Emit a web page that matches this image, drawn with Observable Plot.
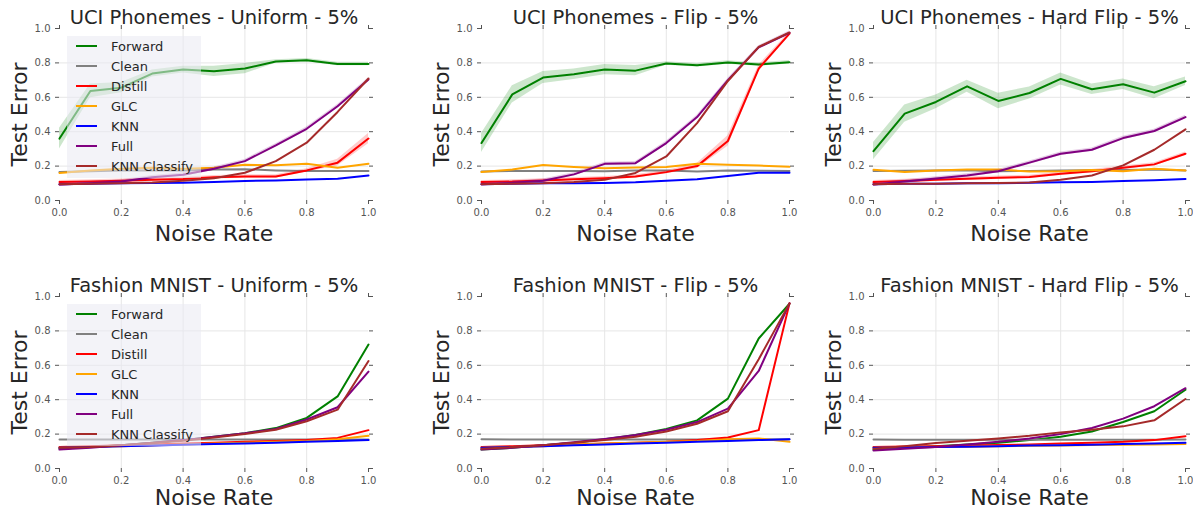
<!DOCTYPE html>
<html><head><meta charset="utf-8">
<script src="https://cdn.jsdelivr.net/npm/d3@7"></script>
<script src="https://cdn.jsdelivr.net/npm/@observablehq/plot@0.6"></script>
<style>
body{margin:0;background:#fff;font-family:"DejaVu Sans",sans-serif;}
#root{position:relative;width:1193px;height:509px;overflow:hidden;background:#fff;}
.panel{position:absolute;}
.legend{position:absolute;width:134px;height:142px;background:rgba(234,234,242,0.55);box-sizing:border-box;}
.legend .row{position:absolute;left:0;height:20px;display:flex;align-items:center;font-size:13px;color:#262626;white-space:nowrap;}
.legend .sw{width:21px;height:2px;margin-left:9px;margin-right:14px;}
</style></head><body><div id="root"></div><script>
// ---- data ----
const noiseRates = [0, 0.1, 0.2, 0.3, 0.4, 0.5, 0.6, 0.7, 0.8, 0.9, 1.0];
const methods = ["Forward", "Clean", "Distill", "GLC", "KNN", "Full", "KNN Classify"];
const methodColors = ["#008000", "#808080", "#ff0000", "#ffa500", "#0000ff", "#800080", "#a52a2a"];
const yTicks = [0, 0.2, 0.4, 0.6, 0.8, 1.0];
const xTicks = [0, 0.2, 0.4, 0.6, 0.8, 1.0];
const gridTicks = [0.2, 0.4, 0.6, 0.8];
const panelTitles = [
  "UCI Phonemes - Uniform - 5%", "UCI Phonemes - Flip - 5%", "UCI Phonemes - Hard Flip - 5%",
  "Fashion MNIST - Uniform - 5%", "Fashion MNIST - Flip - 5%", "Fashion MNIST - Hard Flip - 5%"
];
const xLabel = "Noise Rate";
const yLabel = "Test Error";

const uciUniform = {
  "Forward":      [0.36, 0.637, 0.656, 0.738, 0.761, 0.751, 0.767, 0.808, 0.816, 0.794, 0.794],
  "Clean":        [0.165, 0.170, 0.175, 0.175, 0.175, 0.180, 0.182, 0.175, 0.171, 0.171, 0.171],
  "Distill":      [0.107, 0.110, 0.115, 0.120, 0.125, 0.135, 0.140, 0.140, 0.175, 0.220, 0.360],
  "GLC":          [0.160, 0.175, 0.185, 0.190, 0.185, 0.190, 0.208, 0.205, 0.213, 0.190, 0.213],
  "KNN":          [0.095, 0.098, 0.100, 0.102, 0.103, 0.108, 0.113, 0.117, 0.122, 0.127, 0.146],
  "Full":         [0.093, 0.100, 0.110, 0.135, 0.150, 0.185, 0.229, 0.320, 0.417, 0.548, 0.703],
  "KNN Classify": [0.095, 0.097, 0.100, 0.105, 0.115, 0.130, 0.161, 0.229, 0.336, 0.515, 0.709]
};
const uciUniformStd = {
  "Forward": [0.06, 0.04, 0.03, 0.02, 0.02, 0.03, 0.03, 0.01, 0.01, 0.01, 0.01],
  "Distill": [0.01, 0.01, 0.01, 0.01, 0.01, 0.01, 0.01, 0.01, 0.01, 0.02, 0.03],
  "Full":    [0.01, 0.01, 0.01, 0.01, 0.01, 0.01, 0.01, 0.01, 0.01, 0.01, 0.01]
};

const uciFlip = {
  "Forward":      [0.334, 0.617, 0.715, 0.734, 0.761, 0.755, 0.796, 0.786, 0.802, 0.790, 0.804],
  "Clean":        [0.169, 0.172, 0.172, 0.172, 0.170, 0.175, 0.175, 0.168, 0.175, 0.173, 0.172],
  "Distill":      [0.107, 0.110, 0.117, 0.123, 0.130, 0.140, 0.165, 0.200, 0.346, 0.767, 0.970],
  "GLC":          [0.165, 0.180, 0.206, 0.195, 0.187, 0.192, 0.195, 0.213, 0.208, 0.203, 0.196],
  "KNN":          [0.095, 0.097, 0.100, 0.100, 0.102, 0.106, 0.115, 0.123, 0.143, 0.161, 0.161],
  "Full":         [0.095, 0.103, 0.115, 0.152, 0.213, 0.217, 0.334, 0.485, 0.700, 0.890, 0.975],
  "KNN Classify": [0.095, 0.097, 0.100, 0.108, 0.120, 0.160, 0.256, 0.450, 0.695, 0.893, 0.977]
};
const uciFlipStd = {
  "Forward": [0.055, 0.05, 0.035, 0.03, 0.03, 0.03, 0.01, 0.01, 0.01, 0.01, 0.01],
  "Distill": [0.01, 0.01, 0.01, 0.01, 0.01, 0.01, 0.01, 0.015, 0.03, 0.02, 0.01],
  "Full":    [0.01, 0.01, 0.01, 0.01, 0.01, 0.01, 0.01, 0.01, 0.01, 0.01, 0.01]
};

const uciHardFlip = {
  "Forward":      [0.287, 0.505, 0.573, 0.664, 0.579, 0.625, 0.707, 0.647, 0.676, 0.627, 0.693],
  "Clean":        [0.171, 0.173, 0.175, 0.176, 0.170, 0.172, 0.175, 0.176, 0.178, 0.180, 0.175],
  "Distill":      [0.107, 0.113, 0.120, 0.127, 0.132, 0.137, 0.155, 0.170, 0.190, 0.210, 0.272],
  "GLC":          [0.179, 0.165, 0.175, 0.180, 0.180, 0.168, 0.170, 0.178, 0.170, 0.185, 0.175],
  "KNN":          [0.095, 0.097, 0.098, 0.100, 0.100, 0.103, 0.106, 0.108, 0.113, 0.118, 0.125],
  "Full":         [0.093, 0.110, 0.128, 0.145, 0.170, 0.220, 0.272, 0.295, 0.363, 0.404, 0.485],
  "KNN Classify": [0.095, 0.097, 0.098, 0.100, 0.102, 0.105, 0.120, 0.145, 0.204, 0.295, 0.414]
};
const uciHardFlipStd = {
  "Forward": [0.05, 0.05, 0.04, 0.035, 0.045, 0.035, 0.035, 0.03, 0.03, 0.035, 0.025],
  "Distill": [0.01, 0.01, 0.01, 0.01, 0.01, 0.01, 0.01, 0.01, 0.01, 0.01, 0.01],
  "Full":    [0.01, 0.01, 0.01, 0.01, 0.01, 0.01, 0.01, 0.01, 0.01, 0.01, 0.01]
};

const fashionUniform = {
  "Forward":      [0.115, 0.125, 0.135, 0.150, 0.165, 0.185, 0.205, 0.235, 0.294, 0.419, 0.721],
  "Clean":        [0.168, 0.168, 0.168, 0.168, 0.168, 0.168, 0.168, 0.168, 0.168, 0.168, 0.168],
  "Distill":      [0.125, 0.130, 0.135, 0.140, 0.145, 0.150, 0.155, 0.160, 0.165, 0.178, 0.223],
  "GLC":          [0.120, 0.125, 0.130, 0.135, 0.140, 0.145, 0.150, 0.155, 0.160, 0.170, 0.190],
  "KNN":          [0.120, 0.125, 0.130, 0.134, 0.138, 0.142, 0.146, 0.150, 0.155, 0.160, 0.165],
  "Full":         [0.110, 0.120, 0.135, 0.150, 0.165, 0.185, 0.205, 0.230, 0.285, 0.356, 0.563],
  "KNN Classify": [0.120, 0.125, 0.135, 0.148, 0.162, 0.180, 0.200, 0.225, 0.275, 0.342, 0.625]
};
const fashionUniformStd = {};

const fashionFlip = {
  "Forward":      [0.110, 0.120, 0.135, 0.150, 0.170, 0.195, 0.230, 0.280, 0.406, 0.756, 0.958],
  "Clean":        [0.170, 0.168, 0.168, 0.168, 0.168, 0.168, 0.168, 0.168, 0.168, 0.169, 0.170],
  "Distill":      [0.125, 0.130, 0.135, 0.140, 0.145, 0.150, 0.155, 0.165, 0.180, 0.223, 0.960],
  "GLC":          [0.120, 0.125, 0.130, 0.140, 0.145, 0.150, 0.155, 0.160, 0.170, 0.175, 0.155],
  "KNN":          [0.120, 0.125, 0.130, 0.135, 0.140, 0.145, 0.150, 0.155, 0.160, 0.165, 0.170],
  "Full":         [0.110, 0.120, 0.135, 0.152, 0.172, 0.195, 0.225, 0.270, 0.348, 0.567, 0.960],
  "KNN Classify": [0.115, 0.125, 0.135, 0.150, 0.165, 0.185, 0.215, 0.260, 0.333, 0.635, 0.960]
};
const fashionFlipStd = {};

const fashionHardFlip = {
  "Forward":      [0.110, 0.120, 0.130, 0.140, 0.150, 0.165, 0.185, 0.215, 0.270, 0.333, 0.458],
  "Clean":        [0.168, 0.167, 0.167, 0.167, 0.167, 0.167, 0.167, 0.167, 0.167, 0.167, 0.168],
  "Distill":      [0.125, 0.128, 0.130, 0.133, 0.136, 0.140, 0.145, 0.150, 0.155, 0.165, 0.188],
  "GLC":          [0.120, 0.122, 0.125, 0.127, 0.130, 0.132, 0.134, 0.136, 0.138, 0.140, 0.142],
  "KNN":          [0.120, 0.122, 0.125, 0.127, 0.130, 0.133, 0.135, 0.138, 0.142, 0.146, 0.150],
  "Full":         [0.105, 0.115, 0.125, 0.140, 0.155, 0.175, 0.200, 0.235, 0.290, 0.362, 0.467],
  "KNN Classify": [0.115, 0.130, 0.148, 0.162, 0.175, 0.190, 0.210, 0.225, 0.245, 0.280, 0.404]
};
const fashionHardFlipStd = {};

const panelData = [uciUniform, uciFlip, uciHardFlip, fashionUniform, fashionFlip, fashionHardFlip];
const panelStd = [uciUniformStd, uciFlipStd, uciHardFlipStd, fashionUniformStd, fashionFlipStd, fashionHardFlipStd];
const legendPanels = [0, 3];

// ---- layout ----
const cols = [
  {left: 0, width: 398, ml: 59, mr: 30},
  {left: 400, width: 398, ml: 81, mr: 9},
  {left: 800, width: 393, ml: 73, mr: 8}
];
const rows = [
  {top: 0, height: 250, mt: 28, mb: 50, labelDy: 33},
  {top: 268, height: 241, mt: 28, mb: 41, labelDy: 29}
];
const font = "DejaVu Sans";
const dark = "#262626";
const tickColor = "#555";
const root = document.getElementById("root");

panelData.forEach((data, p) => {
  const col = cols[p % 3], row = rows[Math.floor(p / 3)];
  const std = panelStd[p];
  const marks = [
    Plot.gridX(gridTicks, {stroke: "#e6e6e6", strokeOpacity: 1}),
    Plot.gridY(gridTicks, {stroke: "#e6e6e6", strokeOpacity: 1})
  ];
  methods.forEach((m, k) => {
    const pts = noiseRates.map((x, i) => ({x, y: data[m][i], s: std[m] ? std[m][i] : 0, method: m}));
    if (std[m]) {
      marks.push(Plot.areaY(pts, {x: "x", y1: d => d.y - d.s, y2: d => d.y + d.s, fill: methodColors[k], fillOpacity: 0.2}));
    }
    marks.push(Plot.lineY(pts, {x: "x", y: "y", stroke: methodColors[k], strokeWidth: 2}));
  });
  marks.push(
    Plot.axisY({anchor: "left", ticks: yTicks, tickFormat: d3.format(".1f"), tickSize: 4, tickPadding: 5, fontSize: 10, color: tickColor, label: null}),
    Plot.axisY({anchor: "right", ticks: yTicks, tickFormat: () => "", tickSize: 4, color: tickColor, label: null}),
    Plot.axisX({anchor: "bottom", ticks: xTicks, tickFormat: d3.format(".1f"), tickSize: 4, tickPadding: 4, fontSize: 10, color: tickColor, label: null}),
    Plot.axisX({anchor: "top", ticks: xTicks, tickFormat: () => "", tickSize: 4, color: tickColor, label: null}),
    Plot.text([panelTitles[p]], {frameAnchor: "top", dy: -11, lineAnchor: "middle", textAnchor: "middle", text: d => d, fontSize: 19.5, fill: dark}),
    Plot.text([xLabel], {frameAnchor: "bottom", dy: row.labelDy, lineAnchor: "middle", textAnchor: "middle", text: d => d, fontSize: 22, fill: dark}),
    Plot.text([yLabel], {frameAnchor: "left", dx: -40, rotate: -90, lineAnchor: "middle", textAnchor: "middle", text: d => d, fontSize: 22, fill: dark})
  );
  const svg = Plot.plot({
    width: col.width, height: row.height,
    marginLeft: col.ml, marginRight: col.mr, marginTop: row.mt, marginBottom: row.mb,
    x: {domain: [0, 1]}, y: {domain: [0, 1]},
    style: {fontFamily: font, fontSize: "10px", background: "transparent", overflow: "visible"},
    marks
  });
  const wrap = document.createElement("div");
  wrap.className = "panel";
  wrap.style.left = col.left + "px";
  wrap.style.top = row.top + "px";
  wrap.appendChild(svg);
  root.appendChild(wrap);

  if (legendPanels.includes(p)) {
    const lg = document.createElement("div");
    lg.className = "legend";
    lg.style.left = (col.left + col.ml + 8) + "px";
    lg.style.top = (row.top + row.mt + 8) + "px";
    methods.forEach((m, k) => {
      const r = document.createElement("div");
      r.className = "row";
      r.style.top = (k * 20) + "px";
      const sw = document.createElement("span");
      sw.className = "sw";
      sw.style.background = methodColors[k];
      const t = document.createElement("span");
      t.textContent = m;
      r.appendChild(sw); r.appendChild(t);
      lg.appendChild(r);
    });
    root.appendChild(lg);
  }
});
</script></body></html>
